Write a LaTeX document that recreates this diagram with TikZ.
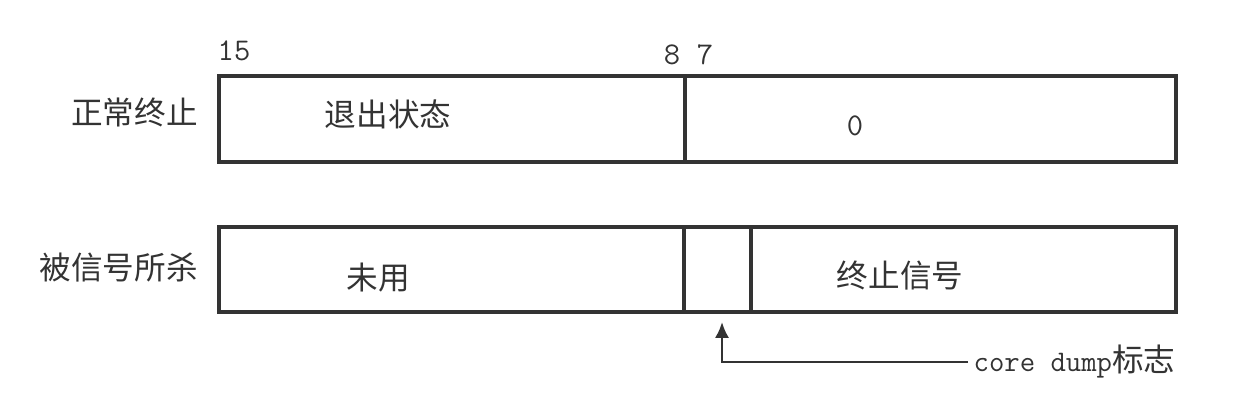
\documentclass[tikz,border=0pt]{standalone}
\usepackage{fontspec}
\setmainfont{Liberation Serif}
\newfontfamily\cjk{Noto Sans CJK SC}
\usetikzlibrary{arrows.meta}
\definecolor{ink}{HTML}{333333}
\tikzset{
    frame/.style={draw=ink, line width=1.8pt},
    zh/.style={font=\cjk\fontsize{18}{18}\selectfont, text=ink, inner sep=0pt},
    bit/.style={font=\ttfamily\fontsize{18}{18}\selectfont, text=ink, inner sep=0pt},
    pointer/.style={draw=ink, line width=1.4pt, -{Latex[length=9pt,width=8pt]}}
}

\begin{document}
\begin{tikzpicture}[x=0.02cm, y=-0.02cm]
    \useasboundingbox (0,0) rectangle (1247,401);
    % normal exit word
    \coordinate (a1) at (219,76);
    \coordinate (a2) at (1176,162);
    \coordinate (a3) at (685,76);
    \coordinate (a4) at (685,162);
    \draw[frame] (a1) rectangle (a2);
    \draw[frame] (a3) -- (a4);
    % killed by signal word
    \coordinate (b1) at (219,227);
    \coordinate (b2) at (1176,312);
    \coordinate (b3) at (684,227);
    \coordinate (b4) at (684,312);
    \coordinate (b5) at (751,227);
    \coordinate (b6) at (751,312);
    \draw[frame] (b1) rectangle (b2);
    \draw[frame] (b3) -- (b4);
    \draw[frame] (b5) -- (b6);
    % bit numbers
    \node[bit] (bit15) at (234,51) {15};
    \node[bit] (bit8) at (672,55) {8};
    \node[bit] (bit7) at (705,55) {7};
    % row labels
    \node[zh, anchor=east] (normal) at (198,112) {正常终止};
    \node[zh, anchor=east] (killed) at (198,267) {被信号所杀};
    % field texts
    \node[zh] (status) at (388,114) {退出状态};
    \node[bit] (zero) at (855,126) {0};
    \node[zh] (unused) at (378,278) {未用};
    \node[zh] (signal) at (900,276) {终止信号};
    % core dump flag
    \coordinate (c1) at (722,322);
    \node[bit, anchor=west, inner sep=3pt, font=\ttfamily\fontsize{17}{17}\selectfont] (core) at (968,362) {core dump{\cjk\fontsize{18}{18}\selectfont 标志}};
    \draw[pointer] (core.west) -| (c1);
\end{tikzpicture}
\end{document}
